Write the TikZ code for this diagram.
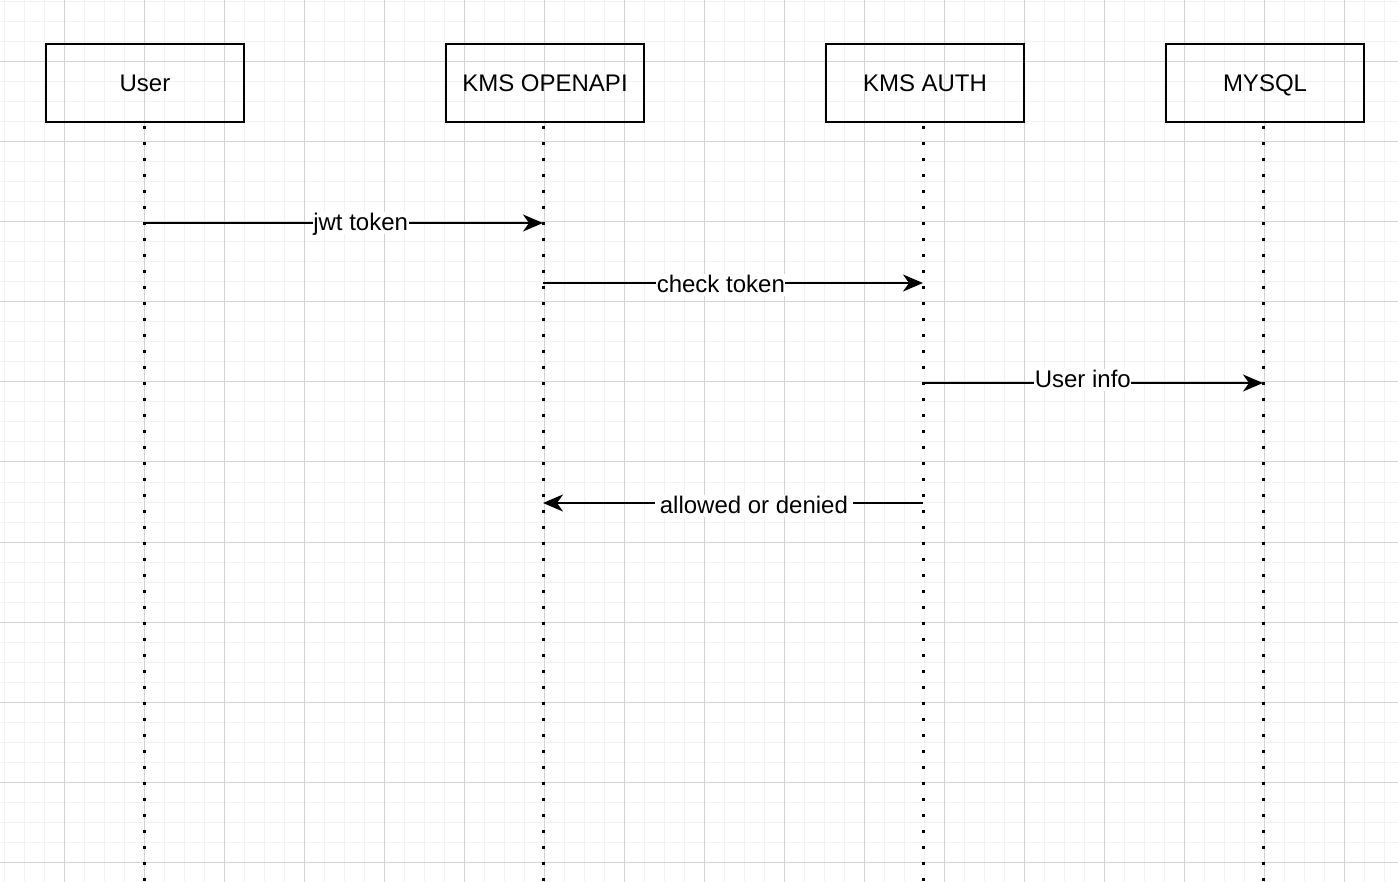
\documentclass[tikz,border=0pt]{standalone}
\usepackage{fontspec}
\setmainfont{Liberation Sans}
\usetikzlibrary{arrows.meta}
\definecolor{gridminor}{HTML}{F2F2F2}
\definecolor{gridmajor}{HTML}{D3D3D3}
\tikzset{
  actor/.style={draw,line width=2.2pt,minimum width=198pt,minimum height=78pt,inner sep=0pt,
    text height=18pt,text depth=1pt,font=\fontsize{24}{28}\selectfont},
  lifeline/.style={line width=3pt,dash pattern=on 3pt off 13pt},
  msg/.style={line width=2pt,-{Stealth[length=20pt,width=17pt,inset=6pt]}},
  msglabel/.style={fill=white,inner sep=0.5pt,text height=18pt,text depth=3pt,font=\fontsize{24}{28}\selectfont}
}

\begin{document}
\begin{tikzpicture}[x=1pt,y=-1pt]
  \useasboundingbox (0,0) rectangle (1398,882);
  \fill[white] (0,0) rectangle (1398,882);
  % grid
  \foreach \x in {4,24,...,1398} \draw[gridminor,line width=1pt] (\x,0) -- (\x,882);
  \foreach \y in {2,22,...,882} \draw[gridminor,line width=1pt] (0,\y) -- (1398,\y);
  \foreach \x in {64,144,...,1398} \draw[gridmajor,line width=1pt] (\x,0) -- (\x,882);
  \foreach \y in {62,142,...,882} \draw[gridmajor,line width=1pt] (0,\y) -- (1398,\y);
  % actors
  \node[actor] (user) at (145,83) {User};
  \node[actor] (openapi) at (545,83) {KMS OPENAPI};
  \node[actor] (auth) at (925,83) {KMS AUTH};
  \node[actor] (mysql) at (1265,83) {MYSQL};
  % lifelines
  \coordinate (userT) at (144,126);   \coordinate (userB) at (144,882);
  \coordinate (openT) at (543,126);   \coordinate (openB) at (543,882);
  \coordinate (authT) at (923,126);   \coordinate (authB) at (923,882);
  \coordinate (sqlT) at (1263,126);   \coordinate (sqlB) at (1263,882);
  \draw[lifeline] (userT) -- (userB);
  \draw[lifeline] (openT) -- (openB);
  \draw[lifeline] (authT) -- (authB);
  \draw[lifeline] (sqlT) -- (sqlB);
  % messages
  \coordinate (u1) at (144,223);  \coordinate (o1) at (543,223);
  \coordinate (o2) at (543,283);  \coordinate (a2) at (923,283);
  \coordinate (a3) at (923,383);  \coordinate (s3) at (1263,383);
  \coordinate (a4) at (923,503);  \coordinate (o4) at (543,503);
  \draw[msg] (u1) -- node[msglabel,pos=0.543]{jwt token} (o1);
  \draw[msg] (o2) -- node[msglabel,pos=0.468,yshift=-2pt]{check token} (a2);
  \draw[msg] (a3) -- node[msglabel,pos=0.47,yshift=3pt]{User info} (s3);
  \draw[msg] (a4) -- node[msglabel,pos=0.445,inner xsep=5pt,yshift=-3pt]{allowed or denied} (o4);
\end{tikzpicture}
\end{document}
